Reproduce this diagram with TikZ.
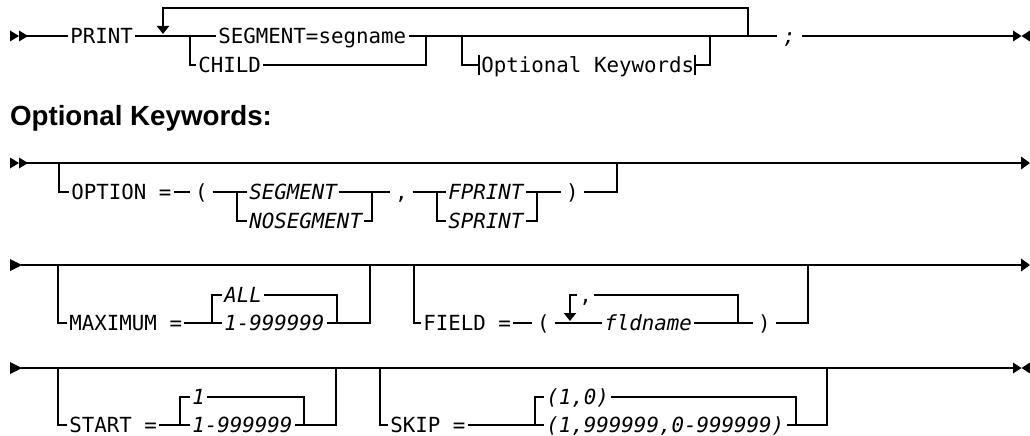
\documentclass[tikz,border=0pt]{standalone}
\usepackage{fontspec}
\usetikzlibrary{arrows.meta}
\newfontfamily\mono{DejaVu Sans Mono}
\newfontfamily\headfont{Liberation Sans}
\tikzset{
  kw/.style={font=\mono\fontsize{15.6pt}{18pt}\selectfont, inner xsep=1pt, inner ysep=0pt,
             text height=11.4pt, text depth=0pt, anchor=west},
  var/.style={kw, font=\mono\fontsize{15.6pt}{18pt}\selectfont\itshape},
  punct/.style={kw, inner xsep=3pt},
  loopar/.style={-{Triangle[length=6pt,width=9pt]}},
}
\begin{document}
\begin{tikzpicture}[x=0.75pt,y=-0.75pt,line width=1.5pt]
\useasboundingbox (0,0) rectangle (1030,435);

% ---------------- Row 1 ----------------
\fill (10,30.5) -- (19,36) -- (10,41.5) -- cycle;
\fill (19,30.5) -- (28,36) -- (19,41.5) -- cycle;
\coordinate (s1) at (27,36);
\node[kw] (print) at (68,36) {PRINT};
\node[kw] (seg) at (216,36) {SEGMENT=segname};
\node[kw] (child) at (196,65) {CHILD};
\node[kw] (optkw) at (479,65) {Optional Keywords};
\node[var,inner xsep=3.75pt] (semi) at (777,36) {;};
\coordinate (sp1) at (190,36);
\coordinate (j1) at (426,36);
\coordinate (sp2) at (462,36);
\coordinate (j2) at (710,36);
\coordinate (lr) at (748,36);
\coordinate (lt) at (163,8);
\coordinate (la) at (163,34);
\coordinate (e1) at (1013,36);
\draw (s1) -- (print.west);
\draw (print.east) -- (seg.west);
\draw (sp1) |- (child.west);
\draw (child.east) -| (j1);
\draw (seg.east) -- (semi.west);
\draw (sp2) |- (optkw.west);
\draw ([yshift=7.5pt]optkw.west) -- ([yshift=-7.5pt]optkw.west);
\draw ([xshift=-1pt,yshift=7.5pt]optkw.east) -- ([xshift=-1pt,yshift=-7.5pt]optkw.east);
\draw ([xshift=-1pt]optkw.east) -| (j2);
\draw[loopar] (lr) |- (lt) -- (la);
\draw (semi.east) -- (e1);
\fill (1013,30.5) -- (1021.5,36) -- (1013,41.5) -- cycle;
\fill (1030,30.5) -- (1021.5,36) -- (1030,41.5) -- cycle;

% ---------------- Heading ----------------
\node[anchor=base west, inner sep=0pt, font=\headfont\bfseries\fontsize{20.8pt}{24pt}\selectfont] (head) at (9,125) {Optional Keywords:};

% ---------------- Row 2 ----------------
\fill (10,157.5) -- (19,163) -- (10,168.5) -- cycle;
\fill (19,157.5) -- (28,163) -- (19,168.5) -- cycle;
\coordinate (s2) at (27,163);
\coordinate (e2) at (1021,163);
\draw (s2) -- (e2);
\fill (1021,156.5) -- (1030,163) -- (1021,169.5) -- cycle;
\node[kw] (option) at (69,192) {OPTION =};
\node[punct] (lp2) at (190,192) {(};
\node[var] (seg2) at (247,192) {SEGMENT};
\node[var] (noseg) at (247,221) {NOSEGMENT};
\node[punct] (comma2) at (390,192) {,};
\node[var] (fprint) at (446,192) {FPRINT};
\node[var] (sprint) at (446,221) {SPRINT};
\node[punct] (rp2) at (561,192) {)};
\coordinate (b2) at (59,163);
\coordinate (sp21) at (237,192);
\coordinate (j21) at (372,192);
\coordinate (sp22) at (437,192);
\coordinate (j22) at (537,192);
\coordinate (j2e) at (617,163);
\draw (b2) |- (option.west);
\draw (option.east) -- (lp2.west);
\draw (lp2.east) -- (seg2.west);
\draw (sp21) |- (noseg.west);
\draw (noseg.east) -| (j21);
\draw (seg2.east) -- (comma2.west);
\draw (comma2.east) -- (fprint.west);
\draw (sp22) |- (sprint.west);
\draw (sprint.east) -| (j22);
\draw (fprint.east) -- (rp2.west);
\draw (rp2.east) -| (j2e);

% ---------------- Row 3 ----------------
\fill (10,259) -- (22,265) -- (10,271) -- cycle;
\coordinate (s3) at (21,265);
\coordinate (e3) at (1021,265);
\draw (s3) -- (e3);
\fill (1021,258.5) -- (1030,265) -- (1021,271.5) -- cycle;
\node[kw] (maximum) at (67,323) {MAXIMUM =};
\node[var] (all) at (222,295) {ALL};
\node[var] (num3) at (222,323) {1-999999};
\coordinate (b31) at (58,265);
\coordinate (sp3) at (212,323);
\coordinate (j3) at (337,323);
\coordinate (j3e) at (370,265);
\draw (b31) |- (maximum.west);
\draw (maximum.east) -- (num3.west);
\draw (sp3) |- (all.west);
\draw (all.east) -| (j3);
\draw (num3.east) -| (j3e);
\node[kw] (field) at (421,323) {FIELD =};
\node[punct] (lp3) at (532,323) {(};
\node[var] (fld) at (602,323) {fldname};
\node[kw] (comma3) at (577,295) {,};
\node[punct] (rp3) at (753,323) {)};
\coordinate (b32) at (414,265);
\coordinate (fr) at (738,323);
\coordinate (fa) at (570,321);
\coordinate (j3f) at (808,265);
\draw (b32) |- (field.west);
\draw (field.east) -- (lp3.west);
\draw (lp3.east) -- (fld.west);
\draw (fld.east) -- (rp3.west);
\draw (fr) |- (comma3.east);
\draw[loopar] (comma3.west) -| (fa);
\draw (rp3.east) -| (j3f);

% ---------------- Row 4 ----------------
\fill (10,362) -- (22,368) -- (10,374) -- cycle;
\coordinate (s4) at (21,368);
\coordinate (e4) at (1013,368);
\draw (s4) -- (e4);
\fill (1013,362.5) -- (1021.5,368) -- (1013,373.5) -- cycle;
\fill (1030,362.5) -- (1021.5,368) -- (1030,373.5) -- cycle;
\node[kw] (start) at (67,425) {START =};
\node[var] (one) at (190,397) {1};
\node[var] (num4) at (190,425) {1-999999};
\coordinate (b41) at (58,368);
\coordinate (sp4) at (180,425);
\coordinate (j4) at (304,425);
\coordinate (j4e) at (336,368);
\draw (b41) |- (start.west);
\draw (start.east) -- (num4.west);
\draw (sp4) |- (one.west);
\draw (one.east) -| (j4);
\draw (num4.east) -| (j4e);
\node[kw] (skip) at (388,425) {SKIP =};
\node[var] (p10) at (544,397) {(1,0)};
\node[var] (rng) at (544,425) {(1,999999,0-999999)};
\coordinate (b42) at (380,368);
\coordinate (sp5) at (535,425);
\coordinate (j5) at (796,425);
\coordinate (j5e) at (827,368);
\draw (b42) |- (skip.west);
\draw (skip.east) -- (rng.west);
\draw (sp5) |- (p10.west);
\draw (p10.east) -| (j5);
\draw (rng.east) -| (j5e);
\end{tikzpicture}
\end{document}
